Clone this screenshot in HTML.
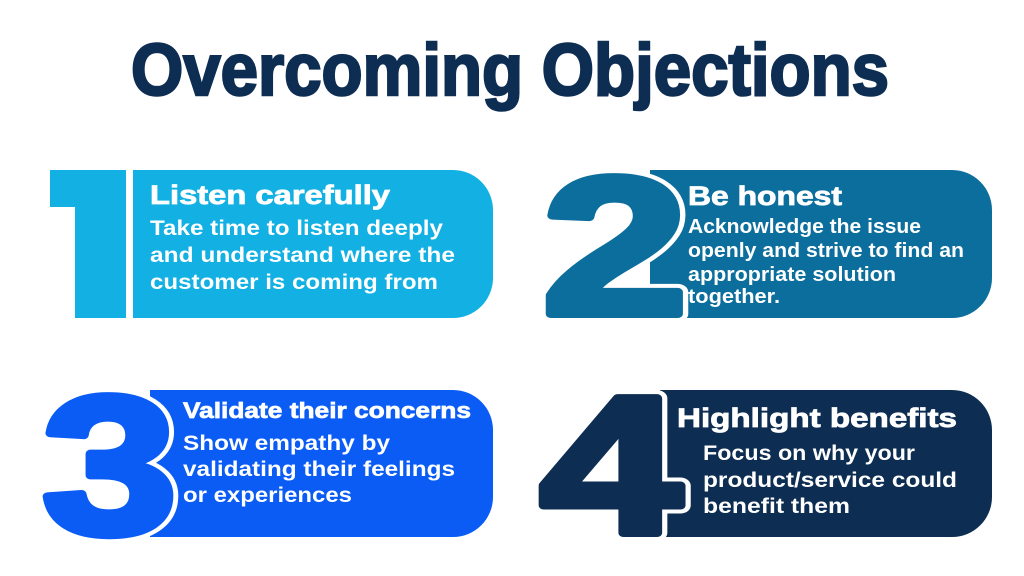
<!DOCTYPE html>
<html><head><meta charset="utf-8"><style>
html,body{margin:0;padding:0;background:#fff;}
svg{display:block;}
text{font-family:"Liberation Sans",sans-serif;font-weight:bold;}
</style></head><body>
<svg width="1024" height="576" viewBox="0 0 1024 576" xmlns="http://www.w3.org/2000/svg">
<rect width="1024" height="576" fill="#fff"/>
<text x="131" y="95" font-size="73" fill="#0d2d52" stroke="#0d2d52" stroke-width="2.5" textLength="758" lengthAdjust="spacingAndGlyphs">Overcoming Objections</text>

<!-- Card 1 -->
<path d="M133 170 H453 A40 40 0 0 1 493 210 V278 A40 40 0 0 1 453 318 H133 Z" fill="#12b0e3"/>
<polygon points="50,170 126,170 126,318 75,318 75,207 50,207" fill="#12b0e3"/>
<text x="150" y="204" font-size="27" fill="#fff" stroke="#fff" stroke-width="0.8" textLength="240" lengthAdjust="spacingAndGlyphs">Listen carefully</text>
<g font-size="21" fill="#fff">
<text x="150" y="235" textLength="293" lengthAdjust="spacingAndGlyphs">Take time to listen deeply</text>
<text x="150" y="262" textLength="305" lengthAdjust="spacingAndGlyphs">and understand where the</text>
<text x="150" y="289" textLength="288" lengthAdjust="spacingAndGlyphs">customer is coming from</text>
</g>

<!-- Card 2 -->
<path d="M650 170 H952 A40 40 0 0 1 992 210 V278 A40 40 0 0 1 952 318 H650 Z" fill="#0b6e9d"/>
<g transform="translate(542 314) scale(1.34 1)" font-size="196">
<text x="0" y="0" fill="#fff" stroke="#fff" stroke-width="16" stroke-linejoin="round">2</text>
<text x="0" y="0" fill="#0b6e9d" stroke="#0b6e9d" stroke-width="8" stroke-linejoin="round">2</text>
</g>
<text x="688" y="205" font-size="27" fill="#fff" stroke="#fff" stroke-width="0.8" textLength="154" lengthAdjust="spacingAndGlyphs">Be honest</text>
<g font-size="20" fill="#fff">
<text x="688" y="233" textLength="233" lengthAdjust="spacingAndGlyphs">Acknowledge the issue</text>
<text x="688" y="257" textLength="276" lengthAdjust="spacingAndGlyphs">openly and strive to find an</text>
<text x="688" y="281" textLength="208" lengthAdjust="spacingAndGlyphs">appropriate solution</text>
<text x="688" y="303" textLength="92" lengthAdjust="spacingAndGlyphs">together.</text>
</g>

<!-- Card 3 -->
<path d="M150 390 H453 A40 40 0 0 1 493 430 V497 A40 40 0 0 1 453 537 H150 Z" fill="#0a5cf5"/>
<g transform="translate(42 533) scale(1.24 1)" font-size="196">
<text x="0" y="0" fill="#fff" stroke="#fff" stroke-width="16" stroke-linejoin="round">3</text>
<text x="0" y="0" fill="#0a5cf5" stroke="#0a5cf5" stroke-width="8" stroke-linejoin="round">3</text>
</g>
<text x="183" y="418" font-size="22" fill="#fff" stroke="#fff" stroke-width="0.7" textLength="288" lengthAdjust="spacingAndGlyphs">Validate their concerns</text>
<g font-size="21" fill="#fff">
<text x="183" y="450" textLength="207" lengthAdjust="spacingAndGlyphs">Show empathy by</text>
<text x="183" y="476" textLength="272" lengthAdjust="spacingAndGlyphs">validating their feelings</text>
<text x="183" y="502" textLength="169" lengthAdjust="spacingAndGlyphs">or experiences</text>
</g>

<!-- Card 4 -->
<path d="M660 390 H952 A40 40 0 0 1 992 430 V497 A40 40 0 0 1 952 537 H660 Z" fill="#0d2d52"/>
<g transform="translate(540 533) scale(1.3 1)" font-size="196">
<text x="0" y="0" fill="#fff" stroke="#fff" stroke-width="16" stroke-linejoin="round">4</text>
<text x="0" y="0" fill="#0d2d52" stroke="#0d2d52" stroke-width="8" stroke-linejoin="round">4</text>
</g>
<text x="677" y="427" font-size="27" fill="#fff" stroke="#fff" stroke-width="0.8" textLength="280" lengthAdjust="spacingAndGlyphs">Highlight benefits</text>
<g font-size="21" fill="#fff">
<text x="703" y="460" textLength="212" lengthAdjust="spacingAndGlyphs">Focus on why your</text>
<text x="703" y="487" textLength="254" lengthAdjust="spacingAndGlyphs">product/service could</text>
<text x="703" y="513" textLength="147" lengthAdjust="spacingAndGlyphs">benefit them</text>
</g>
</svg>
</body></html>
